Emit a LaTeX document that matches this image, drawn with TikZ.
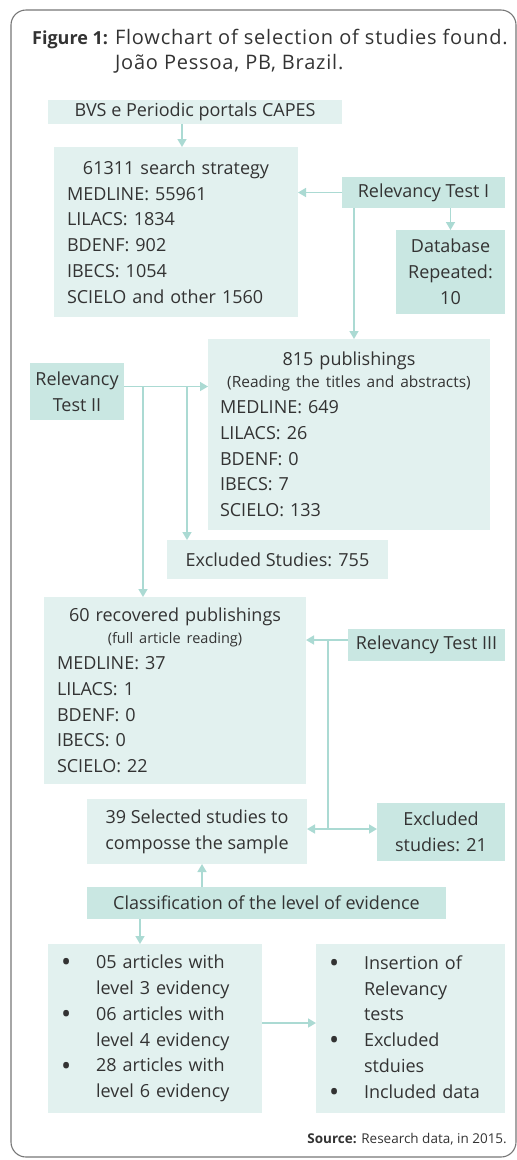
\documentclass[tikz,border=0pt]{standalone}
\usepackage{fontspec}
\setmainfont{Open Sans}
\usetikzlibrary{arrows.meta,calc}
\definecolor{lightfill}{HTML}{E2F1EF}
\definecolor{darkfill}{HTML}{C9E7E2}
\definecolor{arrowc}{HTML}{ABDAD3}
\definecolor{txt}{HTML}{333333}
\definecolor{framec}{HTML}{777777}
\newcommand{\bodyfont}{\fontsize{18}{25.8}\selectfont}
\newcommand{\smallfont}{\fontsize{15.5}{21}\selectfont}
\newcommand{\bul}{\makebox[36pt][l]{\hspace{1pt}\raisebox{-3.2pt}{\scalebox{1.5}{\textbullet}}}}
\newcommand{\ind}{\hspace*{36pt}}
\begin{document}
\begin{tikzpicture}[x=1pt,y=-1pt,
  every node/.style={text=txt, font=\bodyfont},
  lbox/.style={fill=lightfill, inner sep=0pt, outer sep=0pt, draw=none},
  dbox/.style={fill=darkfill, inner sep=0pt, outer sep=0pt, draw=none},
  arr/.style={draw=arrowc, line width=1.6pt, -{Triangle[length=8pt,width=9pt]}},
  plain/.style={draw=arrowc, line width=1.6pt}]
\useasboundingbox (0,0) rectangle (517,1160);
\draw[framec, line width=1.1pt, rounded corners=15pt] (11,10) rectangle (516,1157);

% title
\node[anchor=base west, inner sep=0pt, align=left] (title) at (32,44.5)
  {\fontsize{20}{25}\selectfont\begin{tabular}[t]{@{}l@{ }l@{}}\fontsize{18}{25}\selectfont\textbf{Figure 1:} & \addfontfeatures{LetterSpace=4}Flowchart of selection of studies found.\\ & \addfontfeatures{LetterSpace=4}João Pessoa, PB, Brazil.\end{tabular}};

% boxes
\node[lbox, minimum width=294pt, minimum height=24pt] (bvs) at (195,112) {BVS e Periodic portals CAPES};

\node[lbox, minimum height=170pt, text width=218pt, inner xsep=13pt, align=left] (search) at (176,232)
  {\makebox[218pt][c]{61311 search strategy}\\
   MEDLINE: 55961\\ LILACS: 1834\\ BDENF: 902\\ IBECS: 1054\\ SCIELO and other 1560};

\node[dbox, minimum width=163pt, minimum height=31pt] (rt1) at (423.5,192.5) {Relevancy Test I};

\node[dbox, minimum width=109pt, minimum height=84pt, align=center] (db) at (450.5,272)
  {Database\\ Repeated:\\ 10};

\node[lbox, minimum height=191pt, text width=258pt, inner xsep=12pt, align=left] (pub) at (349,434.5)
  {\makebox[258pt][c]{815 publishings}\\[-4pt]
   \makebox[258pt][c]{\smallfont (Reading the titles and abstracts)}\\
   MEDLINE: 649\\ LILACS: 26\\ BDENF: 0\\ IBECS: 7\\ SCIELO: 133};

\node[dbox, minimum width=94pt, minimum height=57pt, align=center] (rt2) at (77,391.5)
  {Relevancy\\ Test II};

\node[lbox, minimum width=221pt, minimum height=39pt] (exc) at (277.5,559.5) {Excluded Studies: 755};

\node[lbox, minimum height=187pt, text width=236pt, inner xsep=13pt, align=left] (rec) at (175,690.5)
  {\makebox[236pt][c]{60 recovered publishings}\\[-4pt]
   \makebox[236pt][c]{\fontsize{14.5}{21}\selectfont (full article reading)}\\
   MEDLINE: 37\\ LILACS: 1\\ BDENF: 0\\ IBECS: 0\\ SCIELO: 22};

\node[dbox, minimum width=157pt, minimum height=32pt] (rt3) at (426.5,645) {Relevancy Test III};

\node[lbox, minimum width=220pt, minimum height=65pt, align=center] (sel) at (197,831.5)
  {39 Selected studies to\\ composse the sample};

\node[dbox, minimum width=128pt, minimum height=58pt, align=center] (exc2) at (441,832)
  {Excluded\\ studies: 21};

\node[dbox, minimum width=359pt, minimum height=32pt] (cls) at (266.5,903) {Classification of the level of evidence};

\node[lbox, minimum height=169pt, text width=190pt, inner xsep=12pt, align=left] (bl) at (155,1028.5)
  {\bul 05 articles with\\ \ind level 3 evidency\\
   \bul 06 articles with\\ \ind level 4 evidency\\
   \bul 28 articles with\\ \ind level 6 evidency};

\node[lbox, minimum height=169pt, text width=165pt, inner xsep=12pt, align=left] (br) at (410.5,1028.5)
  {\bul Insertion of\\ \ind Relevancy\\ \ind tests\\
   \bul Excluded\\ \ind stduies\\
   \bul Included data};

\node[anchor=base east, inner sep=0pt, font=\fontsize{13.5}{16}\selectfont] (src) at (507,1143)
  {\textbf{Source:} Research data, in 2015.};

% connectors
\draw[arr] ([xshift=-13pt]bvs.south) -- ([xshift=-13pt]bvs.south |- search.north);
\draw[arr] (rt1.west) -- (rt1.west -| search.east);
\draw[arr] (db.north |- rt1.south) -- (db.north);
\draw[arr] ([xshift=12pt]rt1.south west) -- ([xshift=12pt]rt1.south west |- pub.north);

\coordinate (b0) at ([yshift=5pt]rt2.east);
\coordinate (b1) at (143,386.5);
\coordinate (b2) at (187,386.5);
\draw[arr] (b0) -- (b0 -| pub.west);
\draw[arr] (b1) -- (b1 |- rec.north);
\draw[arr] (b2) -- (b2 |- exc.north);

\coordinate (r0) at ([yshift=5pt]rt3.west);
\coordinate (r1) at (328,640);
\coordinate (r2) at (328,829);
\draw[arr] (r0) -- (r0 -| rec.east);
\draw[plain] (r1) -- (r2);
\draw[arr] (r2) -- (r2 -| sel.east);
\draw[arr] (r2) -- (r2 -| exc2.west);

\draw[arr] ([xshift=-64.5pt]cls.north) -- ([xshift=-64.5pt]cls.north |- sel.south);
\draw[arr] ([xshift=-126.5pt]cls.south) -- ([xshift=-126.5pt]cls.south |- bl.north);
\coordinate (l0) at ([yshift=5.5pt]bl.east);
\draw[arr] (l0) -- (l0 -| br.west);
\end{tikzpicture}
\end{document}
